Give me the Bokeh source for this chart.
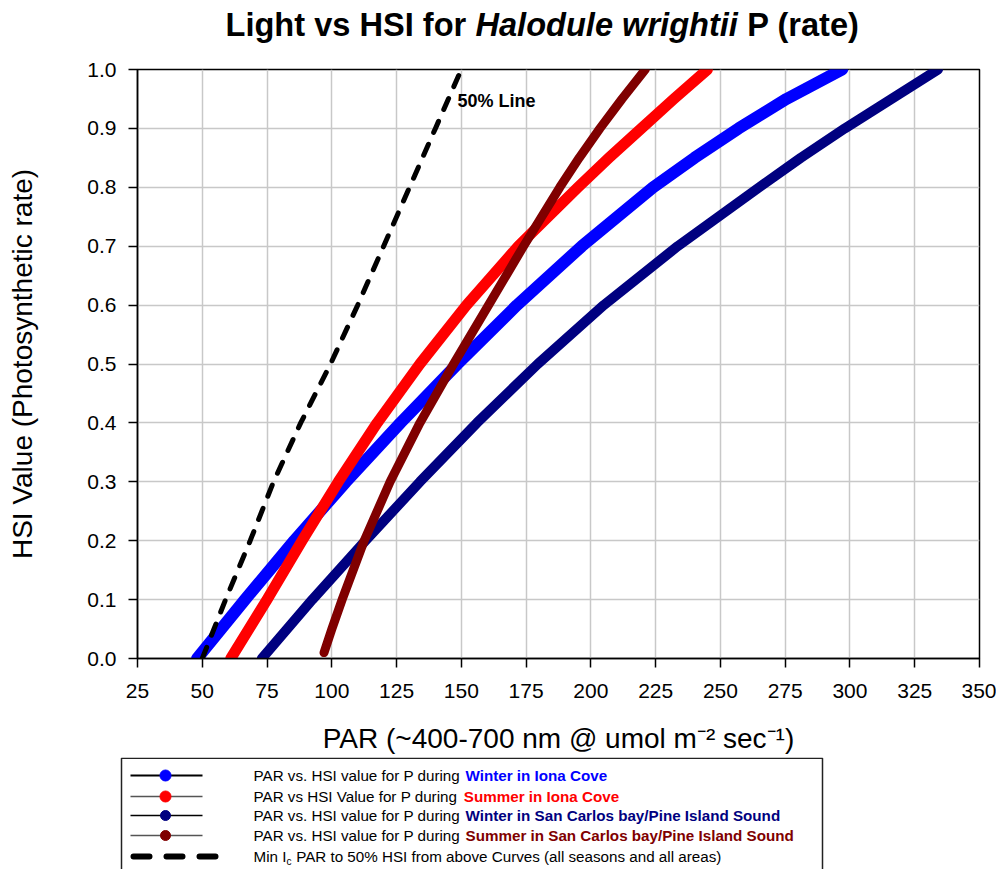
from bokeh.plotting import figure
from bokeh.models import Range1d, Label, PrintfTickFormatter
from bokeh.layouts import column
from bokeh.embed import file_html
from bokeh.resources import INLINE
from bokeh.core.properties import value

FONT = "Liberation Sans"

# ---------------- data ----------------
hsi_winter_iona = [0.0, 0.1, 0.2, 0.3, 0.4, 0.5, 0.6, 0.7, 0.8, 0.85, 0.9, 0.95, 1.0]
par_winter_iona = [48, 66.5, 85.5, 105.5, 126.5, 148.5, 171.5, 196.5, 224, 240, 257, 275.5, 297]

hsi_summer_iona = [0.0, 0.1, 0.2, 0.3, 0.4, 0.5, 0.6, 0.7, 0.8, 0.85, 0.9, 0.95, 1.0]
par_summer_iona = [61, 75, 88.5, 102.5, 117.5, 134, 152, 172, 195, 207, 219.5, 232, 245]

hsi_winter_sc = [0.0, 0.1, 0.2, 0.3, 0.4, 0.5, 0.6, 0.7, 0.8, 0.85, 0.9, 0.95, 1.0]
par_winter_sc = [73, 92.5, 113, 134, 156, 179.5, 205, 233.5, 265, 281, 298, 316, 334]

hsi_summer_sc = [0.01, 0.05, 0.1, 0.2, 0.3, 0.4, 0.5, 0.6, 0.7, 0.8, 0.85, 0.9, 0.95, 1.0]
par_summer_sc = [97, 100, 104, 112.5, 122.5, 134, 147, 160.5, 174, 188, 195.5, 203.5, 212, 221]

hsi_50_line = [0.0, 0.1, 0.2, 0.3, 0.4, 0.5, 0.6, 0.7, 0.8, 0.9, 1.0]
par_50_line = [50, 59, 68.5, 77.5, 88, 99.5, 110, 120, 130, 140, 150]

x_ticks = [25, 50, 75, 100, 125, 150, 175, 200, 225, 250, 275, 300, 325, 350]
y_ticks = [0.0, 0.1, 0.2, 0.3, 0.4, 0.5, 0.6, 0.7, 0.8, 0.9, 1.0]

legend_plain = ["PAR vs. HSI value for P during ",
                "PAR vs HSI Value for P during ",
                "PAR vs. HSI value for P during ",
                "PAR vs. HSI value for P during "]
legend_bold = ["Winter in Iona Cove",
               "Summer in Iona Cove",
               "Winter in San Carlos bay/Pine Island Sound",
               "Summer in San Carlos bay/Pine Island Sound"]
legend_dash = ("Min I", "c", " PAR to 50% HSI from above Curves (all seasons and all areas)")
series_colors = ["#0000FF", "#FF0000", "#000080", "#800000"]

title_parts = ["Light vs HSI for ", "Halodule wrightii", " P (rate)"]

# ---------------- text width helper (Arial metrics) ----------------
REG = {' ': 278, '.': 278, '-': 333, '/': 278, '%': 889, '(': 333, ')': 333,
       'A': 667, 'C': 722, 'H': 722, 'I': 278, 'M': 833, 'P': 667, 'R': 722,
       'S': 667, 'V': 667, 'W': 944,
       'a': 556, 'b': 556, 'c': 500, 'd': 556, 'e': 556, 'f': 278, 'g': 556,
       'h': 556, 'i': 222, 'l': 222, 'm': 833, 'n': 556, 'o': 556, 'r': 333,
       's': 500, 't': 278, 'u': 556, 'v': 500, 'w': 722, 'y': 500}
BOLD = {' ': 278, '/': 278, '(': 333, ')': 333, '%': 889,
        'C': 722, 'H': 722, 'I': 278, 'L': 611, 'P': 667, 'S': 667, 'W': 944,
        'a': 556, 'b': 611, 'd': 611, 'e': 556, 'f': 333, 'g': 611, 'h': 611,
        'i': 278, 'l': 278, 'm': 889, 'n': 611, 'o': 611, 'r': 389, 's': 556,
        't': 333, 'u': 611, 'v': 556, 'w': 778, 'y': 556}


def tw(s, size, bold=False):
    tab = BOLD if bold else REG
    return sum(tab.get(ch, 556) for ch in s) * size / 1000.0


def lead(s, size, bold=False):
    """width of leading blanks (SVG collapses them), and the stripped text"""
    n = len(s) - len(s.lstrip(" "))
    return tw(" " * n, size, bold), s.lstrip(" ")


W = 996
TITLE_H = 58
MAIN_H = 699
LEG_H = 112
FL, FR, FT, FB = 137, 17, 11, 99   # frame borders of the main plot


def blank_panel(h):
    f = figure(width=W, height=h, x_range=Range1d(0, W), y_range=Range1d(h, 0),
               output_backend="svg", toolbar_location=None, min_border=0,
               x_axis_type=None, y_axis_type=None)
    f.min_border_left = f.min_border_right = f.min_border_top = f.min_border_bottom = 0
    f.grid.visible = False
    f.outline_line_color = None
    f.background_fill_color = "white"
    f.border_fill_color = "white"
    f.frame_align = False
    return f


# ---------------- title panel ----------------
tp = blank_panel(TITLE_H)
TS = 32.6
tx = 225
styles = ["bold", "bold italic", "bold"]
for part, st in zip(title_parts, styles):
    off, txt = lead(part, TS, True)
    tp.text([tx + off], [24], text=[txt], text_font=value(FONT), text_font_size=f"{TS}px",
            text_font_style=st, text_baseline="alphabetic", text_align="left",
            text_color="black")
    tx += tw(part, TS, bold=True)

# ---------------- main plot ----------------
p = figure(width=W, height=MAIN_H, x_range=Range1d(25, 350), y_range=Range1d(0, 1.0),
           output_backend="svg", toolbar_location=None,
           min_border_left=FL, min_border_right=FR, min_border_top=FT, min_border_bottom=FB)
p.frame_align = False
p.background_fill_color = "white"
p.border_fill_color = "white"
p.outline_line_color = "black"
p.outline_line_width = 1.5

p.xaxis.ticker = x_ticks
p.yaxis.ticker = y_ticks
p.yaxis.formatter = PrintfTickFormatter(format="%.1f")
for ax in (p.xaxis, p.yaxis):
    ax.axis_line_color = "black"
    ax.axis_line_width = 1.5
    ax.major_tick_line_color = "black"
    ax.major_tick_line_width = 1.5
    ax.major_tick_out = 9
    ax.major_tick_in = 0
    ax.minor_tick_line_color = None
    ax.major_label_text_font = FONT
    ax.major_label_text_font_size = "21px"
    ax.major_label_text_color = "black"
    ax.axis_label_text_font = FONT
    ax.axis_label_text_font_size = "28px"
    ax.axis_label_text_font_style = "normal"
    ax.axis_label_text_color = "black"

p.xaxis.major_label_standoff = 16
p.yaxis.major_label_standoff = 12
p.xaxis.axis_label = "PAR (~400-700 nm @ umol m\u207b\u00b2 sec\u207b\u00b9)"
p.yaxis.axis_label = "HSI Value (Photosynthetic rate)"
p.xaxis.axis_label_standoff = 22
p.yaxis.axis_label_standoff = 46

p.grid.grid_line_color = "#c8c8c8"
p.grid.grid_line_width = 1.5

p.line(par_winter_iona, hsi_winter_iona, line_color=series_colors[0], line_width=12,
       line_cap="round", line_join="round")
p.line(par_summer_iona, hsi_summer_iona, line_color=series_colors[1], line_width=11,
       line_cap="round", line_join="round")
p.line(par_winter_sc, hsi_winter_sc, line_color=series_colors[2], line_width=10,
       line_cap="round", line_join="round")
p.line(par_summer_sc, hsi_summer_sc, line_color=series_colors[3], line_width=9,
       line_cap="round", line_join="round")
p.line(par_50_line, hsi_50_line, line_color="black", line_width=5, line_dash="12 13",
       line_cap="round")

p.add_layout(Label(x=148.5, y=0.946, text="50% Line", text_font=FONT, text_font_size="18px",
                   text_font_style="bold", text_baseline="middle", text_align="left",
                   text_color="black"))

# ---------------- legend panel ----------------
lg = blank_panel(LEG_H)
lg.quad(left=[121], right=[822], top=[0.8], bottom=[LEG_H + 20], fill_color=None,
        line_color="#222222", line_width=1.5)

row_y = [18, 39, 58, 78, 99]
line_cols = ["black", "#555555", "black", "#555555"]
line_ws = [2, 1.5, 1.5, 1.5]
dot_sz = [11, 11, 10, 10]
LS = 15.2
x_text = 253
for i in range(4):
    y = row_y[i]
    lg.line([130, 202], [y, y], line_color=line_cols[i], line_width=line_ws[i])
    lg.scatter([165], [y], size=dot_sz[i], fill_color=series_colors[i], line_color=series_colors[i])
    lg.text([x_text], [y], text=[legend_plain[i].rstrip()], text_font=value(FONT),
            text_font_size=f"{LS}px", text_baseline="middle", text_color="black")
    lg.text([x_text + tw(legend_plain[i], LS)], [y], text=[legend_bold[i]],
            text_font=value(FONT), text_font_size=f"{LS}px", text_font_style="bold",
            text_baseline="middle", text_color=series_colors[i])

y = row_y[4]
lg.line([133, 221], [y, y], line_color="black", line_width=6, line_dash="16 17", line_cap="round")
lg.text([x_text], [y], text=[legend_dash[0]], text_font=value(FONT), text_font_size=f"{LS}px",
        text_baseline="middle", text_color="black")
xc = x_text + tw(legend_dash[0], LS)
lg.text([xc], [y + 5], text=[legend_dash[1]], text_font=value(FONT), text_font_size="10px",
        text_baseline="middle", text_color="black")
off, rest = lead(legend_dash[2], LS)
lg.text([xc + 5.5 + off], [y], text=[rest], text_font=value(FONT), text_font_size=f"{LS}px",
        text_baseline="middle", text_color="black")

layout = column(tp, p, lg, spacing=0)
open("out.html", "w").write(file_html(layout, INLINE))
